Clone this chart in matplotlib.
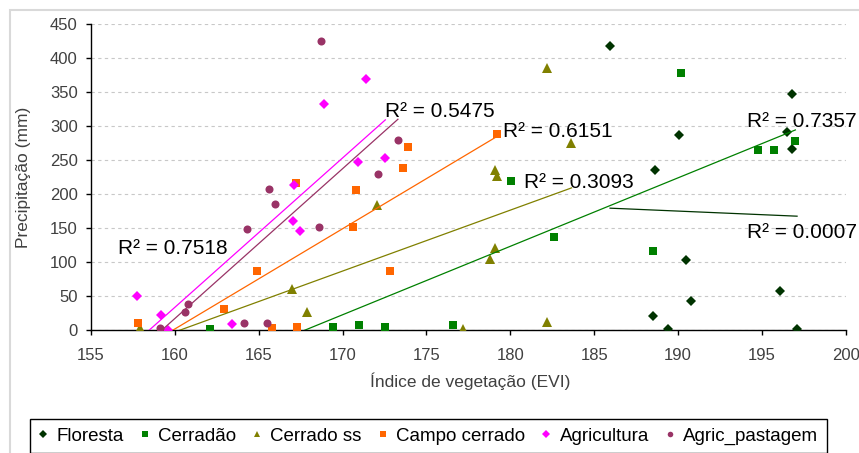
#!/usr/bin/env python3
"""Precipitação x índice de vegetação (EVI) por classe de cobertura, com tendências lineares."""

import matplotlib

matplotlib.use("Agg")
import matplotlib.pyplot as plt
import numpy as np
from matplotlib.lines import Line2D
from matplotlib.patches import Rectangle

plt.rcParams["font.family"] = ["Liberation Sans", "DejaVu Sans"]

series_names = ["Floresta", "Cerradão", "Cerrado ss", "Campo cerrado", "Agricultura", "Agric_pastagem"]

floresta_x = [185.95, 196.8, 190.05, 196.5, 196.8, 188.6, 190.5, 190.75, 196.1, 188.5, 189.4, 197.1]
floresta_y = [418, 348, 287, 292, 266, 235, 103, 43, 57, 20, 1.5, 1.5]

cerradao_x = [162.1, 169.4, 171.0, 172.55, 176.6, 180.07, 182.6, 190.2, 188.5, 194.8, 195.7, 197.0]
cerradao_y = [2, 4, 7, 5, 7, 220, 137, 378, 117, 265, 265, 278]

cerrado_ss_x = [157.9, 167.0, 167.9, 172.05, 179.07, 179.2, 183.65, 182.2, 179.07, 178.8, 182.2, 177.2]
cerrado_ss_y = [3, 61, 26, 184, 236, 226, 275, 386, 120, 105, 12, 1]

campo_x = [157.8, 162.95, 164.9, 167.2, 165.8, 167.3, 170.6, 170.8, 172.8, 173.9, 173.6, 179.2]
campo_y = [11, 31, 87, 217, 2.5, 5, 152, 206, 87, 270, 238, 288]

agricultura_x = [157.75, 159.15, 159.6, 163.4, 167.1, 167.05, 167.45, 168.9, 171.4, 170.95, 172.55]
agricultura_y = [50, 22, 0, 9, 213, 161, 146, 333, 369, 247, 253]

pastagem_x = [168.7, 165.6, 166.0, 164.3, 168.6, 172.1, 173.3, 160.8, 160.6, 159.1, 164.1, 165.5]
pastagem_y = [425, 208, 186, 148, 152, 229, 280, 39, 27, 3, 10, 11]

r2_labels = ["0.0007", "0.7357", "0.3093", "0.6151", "0.5475", "0.7518"]

x_ticks = list(range(155, 201, 5))
y_ticks = list(range(0, 451, 50))

# estilo de cada série: cor, marcador, tamanho, tamanho na legenda
styles = [
    ("#003300", "D", 4.8, 3.6),
    ("#008000", "s", 5.2, 4.0),
    ("#808000", "^", 6.5, 4.6),
    ("#FF6600", "s", 6.0, 4.0),
    ("#FF00FF", "D", 5.6, 3.6),
    ("#993366", "o", 5.8, 4.0),
]
# posição (px da figura) de cada rótulo R², canto esquerdo / linha de base
label_px = [(747, 238), (747, 127), (524, 188), (503, 137), (385, 117), (118, 254)]

W, H = 859, 453


def main() -> None:
    xs = [floresta_x, cerradao_x, cerrado_ss_x, campo_x, agricultura_x, pastagem_x]
    ys = [floresta_y, cerradao_y, cerrado_ss_y, campo_y, agricultura_y, pastagem_y]

    fig = plt.figure(figsize=(W / 100, H / 100), dpi=100)
    ax = fig.add_axes([91 / W, 1 - 330 / H, (845.7 - 91) / W, (330 - 24.3) / H])

    for x, y, (color, marker, ms, _) in zip(xs, ys, styles):
        ax.plot(x, y, linestyle="none", marker=marker, color=color, markersize=ms,
                markeredgewidth=0, zorder=3)

    # linhas de tendência (regressão linear no intervalo de cada série)
    for x, y, (color, *_rest) in zip(xs, ys, styles):
        slope, intercept = np.polyfit(x, y, 1)
        xx = np.array([min(x), max(x)])
        ax.plot(xx, slope * xx + intercept, color=color, linewidth=0.9, zorder=4)

    for text, (px, py) in zip(r2_labels, label_px):
        fig.text(px / W, 1 - py / H, f"R² = {text}", fontsize=15, va="baseline", ha="left",
                 color="black")

    ax.set_xlim(155, 200)
    ax.set_ylim(0, 450)
    ax.set_xticks(x_ticks)
    ax.set_yticks(y_ticks)
    ax.tick_params(axis="both", direction="out", length=3.5, width=1, labelsize=12,
                   labelcolor="#404040", color="black")
    ax.tick_params(axis="x", pad=9.5)
    ax.tick_params(axis="y", pad=6)
    for side in ("top", "right"):
        ax.spines[side].set_visible(False)
    for side in ("left", "bottom"):
        ax.spines[side].set_color("black")
        ax.spines[side].set_linewidth(1)
    ax.grid(axis="y", color="#c8c8c8", linewidth=0.8, linestyle=(0, (3, 3)))
    ax.set_axisbelow(True)
    ax.patch.set_visible(False)

    fig.text(470 / W, 1 - 381 / H, "Índice de vegetação (EVI)", fontsize=12.5,
             color="#404040", ha="center", va="center")
    fig.text(24 / W, 1 - 177 / H, "Precipitação (mm)", fontsize=12.5, color="#404040",
             ha="center", va="center", rotation=90)

    handles = [
        Line2D([], [], linestyle="none", marker=m, color=c, markersize=lms, markeredgewidth=0)
        for c, m, _, lms in styles
    ]
    leg = fig.legend(handles, series_names, loc="upper left",
                     bbox_to_anchor=(30 / W, 1 - 419 / H), ncol=6, fontsize=13.5,
                     frameon=True, fancybox=False, framealpha=1, edgecolor="black",
                     borderaxespad=0, handlelength=0.5, handletextpad=0.45,
                     columnspacing=0.88, borderpad=0.45)
    leg.get_frame().set_linewidth(1)

    # moldura cinza da área do gráfico
    fig.patches.append(Rectangle((10 / W, -0.2), 2, 1 - 10 / H + 0.2, transform=fig.transFigure,
                                 fill=False, edgecolor="#d9d9d9", linewidth=1.5))

    fig.savefig("out.png", dpi=100)
    plt.close(fig)


if __name__ == "__main__":
    main()
